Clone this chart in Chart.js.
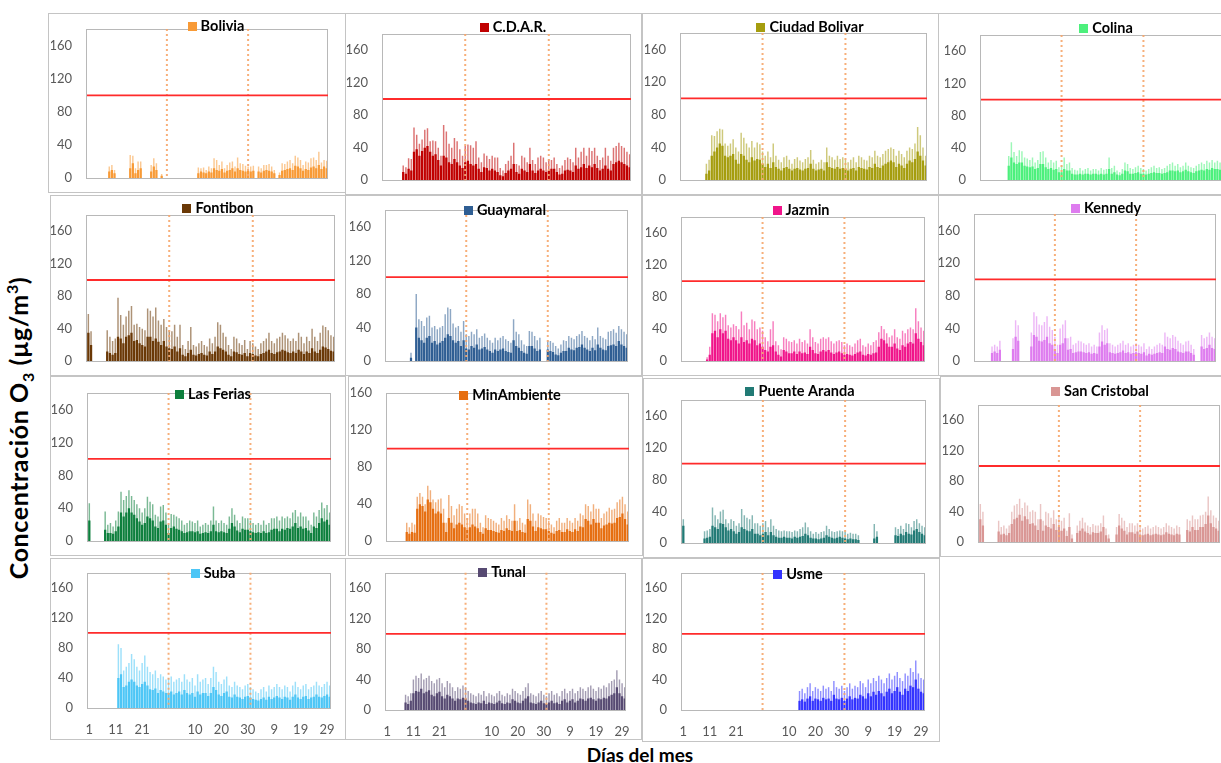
<!DOCTYPE html>
<html>
<head>
<meta charset="utf-8">
<script src="https://cdn.jsdelivr.net/npm/chart.js@4.4.1/dist/chart.umd.min.js"></script>
<style>
html,body{margin:0;padding:0;background:#fff;width:1221px;height:763px;overflow:hidden;position:relative;font-family:Lato,"Open Sans",sans-serif}
canvas{position:absolute}
#ytitle{position:absolute;left:20px;top:428px;transform:translate(-50%,-50%) rotate(-90deg);white-space:nowrap;font-weight:bold;font-size:25px;letter-spacing:0.6px;color:#000;line-height:1}
#ytitle sub,#ytitle sup{font-size:16px}
#xtitle{position:absolute;left:640px;top:754px;transform:translate(-50%,-50%);white-space:nowrap;font-weight:bold;font-size:19px;color:#000}
</style>
</head>
<body>
<div id="ytitle">Concentración O<sub>3</sub> (µg/m<sup>3</sup>)</div>
<div id="xtitle">Días del mes</div>
<script>
(function(){
'use strict';
const _ = null;

// dias (tres meses: 31, 31, 30)
const days = [1,2,3,4,5,6,7,8,9,10,11,12,13,14,15,16,17,18,19,20,21,22,23,24,25,26,27,28,29,30,31,
  1,2,3,4,5,6,7,8,9,10,11,12,13,14,15,16,17,18,19,20,21,22,23,24,25,26,27,28,29,30,31,
  1,2,3,4,5,6,7,8,9,10,11,12,13,14,15,16,17,18,19,20,21,22,23,24,25,26,27,28,29,30];
const tickIdx = [0,10,20,40,50,60,70,80,90];
const yTicks = [0,40,80,120,160];
const monthEnds = [30,61];
const limit = 100;

// maximos diarios (pico) y nivel base por estacion
const boliviaPeak = [_,_,_,_,_,_,_,_,14,16,
 10,_,_,_,_,_,28,27,12,20,
 20,_,_,_,16,24,18,_,5,_,
 _,_,_,_,_,_,_,_,_,_,
 _,_,13,12,13,10,14,12,24,22,
 16,20,12,16,19,20,14,25,18,17,
 15,14,14,15,_,14,12,16,16,17,
 14,10,_,7,18,17,20,22,18,27,
 25,22,16,20,19,24,25,22,32,19,
 22,21];
const boliviaBase = [_,_,_,_,_,_,_,_,8,10,
 6,_,_,_,_,_,12,18,6,10,
 12,_,_,_,8,14,10,_,3,_,
 _,_,_,_,_,_,_,_,_,_,
 _,_,6,8,7,6,8,7,12,10,
 9,11,7,9,10,12,8,12,10,9,
 8,9,8,9,_,8,7,9,10,9,
 8,6,_,4,9,10,11,12,10,15,
 14,12,9,11,10,13,14,12,16,11,
 14,12];

const cdarPeak = [_,_,_,_,_,_,_,18,16,27,
 26,65,56,45,50,62,64,48,49,48,
 40,30,68,60,45,40,52,48,38,30,
 42,44,43,40,48,28,22,33,30,26,
 30,28,28,15,12,20,24,30,46,20,
 18,30,28,22,40,25,20,28,30,28,
 22,26,25,28,20,15,18,25,28,26,
 22,40,28,35,40,30,40,36,40,30,
 25,28,40,30,24,40,42,46,42,40,
 35,32];
const cdarBase = [_,_,_,_,_,_,_,10,8,14,
 12,35,38,30,36,40,42,35,30,32,
 25,18,30,28,22,20,26,22,18,15,
 22,24,20,18,20,14,10,16,15,12,
 14,12,10,6,5,9,12,14,20,10,
 8,14,12,10,20,12,9,12,14,12,
 10,12,14,14,10,7,8,12,13,12,
 10,18,14,16,20,15,18,16,20,15,
 12,14,18,14,12,20,22,24,22,20,
 18,16];

const ciudadPeak = [_,_,_,_,_,_,_,_,_,20,
 25,55,54,60,63,62,45,42,45,50,
 40,35,58,52,45,40,48,40,46,44,
 35,30,35,28,45,30,25,22,28,30,
 25,20,26,28,24,22,26,28,37,25,
 20,22,25,22,40,30,28,25,30,26,
 28,25,22,25,28,22,30,28,25,24,
 30,28,36,30,28,32,36,38,40,38,
 30,36,32,28,36,40,38,45,65,55,
 40,30];
const ciudadBase = [_,_,_,_,_,_,_,_,_,8,
 12,30,35,40,45,42,30,28,30,32,
 25,20,32,30,25,22,28,24,26,25,
 20,16,20,15,22,16,14,12,15,16,
 14,12,14,15,13,12,14,15,20,14,
 12,13,14,12,22,16,15,14,16,14,
 15,14,12,14,15,12,16,15,14,13,
 16,15,20,16,15,18,20,22,24,22,
 16,20,18,15,20,24,22,26,35,30,
 24,18];

const colinaPeak = [_,_,_,_,_,_,_,_,_,_,
 30,47,35,30,37,36,28,27,25,28,
 22,25,35,36,28,22,25,22,24,16,
 18,28,20,22,15,13,12,15,12,14,
 15,12,14,14,12,15,13,14,28,15,
 18,12,10,14,22,20,15,14,16,18,
 15,14,12,14,16,18,15,16,14,15,
 18,20,22,18,20,16,18,22,18,16,
 15,18,20,22,20,24,22,25,22,24,
 22,25];
const colinaBase = [_,_,_,_,_,_,_,_,_,_,
 18,28,22,20,22,22,18,17,16,17,
 14,15,20,20,16,14,15,13,14,10,
 10,14,12,12,8,7,7,8,7,8,
 8,7,8,8,7,8,7,8,14,8,
 10,7,6,8,12,11,8,8,9,10,
 8,8,7,8,9,10,9,9,8,9,
 10,12,12,11,12,10,11,13,11,10,
 9,11,12,13,12,14,13,15,14,14,
 13,15];

const fontibonPeak = [58,37,_,_,_,_,_,38,30,25,
 28,78,57,45,55,62,68,45,46,42,
 40,38,65,62,55,66,50,45,52,42,
 38,37,45,30,45,20,15,25,42,20,
 18,22,25,20,18,28,22,30,48,45,
 35,30,20,15,30,28,22,20,26,15,
 25,22,18,15,22,25,28,35,25,22,
 28,30,35,32,28,25,28,25,35,30,
 22,30,25,40,30,25,35,44,42,38,
 32,30];
const fontibonBase = [35,20,_,_,_,_,_,12,10,8,
 10,30,28,22,30,32,35,25,26,22,
 20,18,30,30,25,28,24,20,25,18,
 16,15,18,12,16,8,6,10,14,8,
 7,9,10,8,7,12,9,12,18,16,
 14,12,8,6,12,11,9,8,10,6,
 10,9,7,6,9,10,12,14,10,9,
 11,12,14,13,11,10,12,10,14,12,
 9,12,10,16,12,10,14,18,17,15,
 13,12];

const guaymaralPeak = [_,_,_,_,_,_,_,_,_,10,
 _,80,50,48,42,52,54,40,42,38,
 40,42,56,64,62,45,40,42,35,48,
 32,30,35,32,38,28,30,33,28,25,
 22,28,25,28,30,26,24,22,50,35,
 32,25,20,18,36,35,30,25,28,_,
 _,25,24,22,18,15,20,25,24,30,
 28,26,30,32,36,30,28,25,30,26,
 40,30,28,26,35,36,38,34,42,38,
 35,32];
const guaymaralBase = [_,_,_,_,_,_,_,_,_,4,
 _,40,28,25,22,28,30,22,24,20,
 22,24,28,32,30,25,22,24,18,25,
 15,14,18,16,20,14,15,17,14,12,
 10,14,12,14,15,12,11,10,25,18,
 16,12,10,9,18,18,15,12,14,_,
 _,14,12,11,8,7,10,12,12,16,
 14,13,16,17,20,16,14,12,16,13,
 20,16,14,13,18,19,20,18,24,20,
 18,16];

const jazminPeak = [_,_,_,_,_,_,_,_,_,5,
 18,60,58,50,60,55,58,45,42,46,
 44,40,62,45,48,40,52,50,40,42,
 38,30,25,40,50,25,20,15,30,28,
 25,24,26,22,28,24,26,22,40,30,
 24,22,28,30,28,30,25,22,25,26,
 24,20,22,20,18,22,26,28,20,18,
 22,20,24,26,36,44,40,35,30,32,
 40,30,28,38,35,40,42,40,66,50,
 42,38];
const jazminBase = [_,_,_,_,_,_,_,_,_,2,
 8,35,38,30,40,35,38,28,26,30,
 26,22,30,24,26,22,28,26,20,22,
 18,14,12,18,20,12,8,6,14,12,
 10,10,12,9,12,10,11,9,18,14,
 10,9,12,14,12,14,11,9,11,12,
 10,8,9,8,7,9,11,12,8,7,
 9,8,10,11,18,28,26,22,18,18,
 22,16,14,20,18,22,24,22,35,28,
 24,20];

const kennedyPeak = [_,_,_,_,_,_,18,20,18,25,
 _,_,_,_,28,50,44,_,_,_,
 _,35,60,55,45,44,48,55,42,38,
 30,20,40,45,50,28,30,20,22,25,
 24,22,20,22,18,20,18,35,44,38,
 40,22,20,18,20,22,25,20,22,18,
 20,22,20,18,22,15,18,15,18,20,
 22,20,35,30,28,32,30,25,22,20,
 24,25,20,15,_,_,32,28,30,35,
 30,28];
const kennedyBase = [_,_,_,_,_,_,10,12,10,14,
 _,_,_,_,15,30,25,_,_,_,
 _,18,32,30,25,24,26,30,22,20,
 15,10,20,22,28,14,15,10,11,12,
 12,11,10,11,9,10,9,18,24,20,
 22,11,10,9,10,11,13,10,11,9,
 10,11,10,9,11,7,9,8,9,10,
 11,10,18,15,14,16,15,12,11,10,
 12,12,10,8,_,_,18,15,16,20,
 16,15];

const feriasPeak = [46,_,_,_,_,_,36,20,22,18,
 25,36,60,50,55,62,55,50,45,40,
 35,40,54,48,45,32,30,42,44,35,
 20,33,32,30,28,25,20,22,25,24,
 22,25,18,20,22,20,25,42,25,22,
 25,22,20,30,40,32,25,22,30,28,
 28,25,22,20,22,20,25,20,22,28,
 28,30,25,30,28,30,28,35,38,30,
 35,30,30,25,20,35,30,38,47,40,
 44,35];
const feriasBase = [25,_,_,_,_,_,14,10,10,9,
 12,18,35,30,35,40,35,32,28,24,
 20,22,30,28,25,18,16,24,25,20,
 10,16,18,15,14,12,10,11,12,12,
 11,12,9,10,11,10,12,20,12,11,
 12,11,10,15,22,18,13,11,15,14,
 14,12,11,10,11,10,12,10,11,14,
 15,15,12,15,14,16,15,18,22,16,
 18,15,16,13,10,18,16,22,28,24,
 26,20];

const minambPeak = [_,_,_,_,_,_,_,20,15,20,
 18,48,52,48,40,60,55,45,42,45,
 46,35,20,50,38,28,35,40,38,30,
 25,30,35,35,30,20,15,28,25,24,
 22,20,18,25,22,28,24,22,40,22,
 25,20,18,45,40,30,22,30,28,26,
 25,22,18,15,22,25,20,20,25,22,
 20,25,22,30,28,40,38,32,40,35,
 35,25,30,32,36,34,35,42,45,48,
 40,32];
const minambBase = [_,_,_,_,_,_,_,10,8,10,
 9,35,40,38,32,45,42,35,30,32,
 30,20,10,25,20,14,18,20,18,15,
 12,15,18,16,14,10,8,14,12,12,
 11,10,9,12,11,14,12,11,22,11,
 12,10,9,24,22,16,11,15,14,13,
 13,11,9,8,11,12,10,10,13,11,
 10,13,11,16,15,24,22,18,24,20,
 20,14,17,18,20,19,20,25,26,30,
 24,18];

const arandaPeak = [30,_,_,_,_,_,_,_,15,16,
 18,45,35,30,40,42,30,25,30,28,
 22,25,43,35,32,30,35,25,25,22,
 25,28,20,30,22,18,16,15,16,15,
 15,14,16,15,18,20,26,20,15,12,
 14,12,14,15,22,18,15,14,15,16,
 15,14,12,13,12,12,10,_,_,_,
 _,_,24,15,_,_,_,_,_,_,
 20,18,22,18,25,24,20,28,30,25,
 22,20];
const arandaBase = [22,_,_,_,_,_,_,_,6,7,
 8,22,20,18,25,24,20,16,18,15,
 12,14,20,18,16,15,18,12,12,10,
 12,14,10,14,10,8,7,7,8,7,
 7,6,8,7,8,9,12,10,7,6,
 6,5,6,7,10,8,7,6,7,8,
 7,6,5,6,5,5,4,_,_,_,
 _,_,6,8,_,_,_,_,_,_,
 10,9,12,10,14,12,11,16,18,14,
 12,10];

const cristobalPeak = [50,40,_,_,_,_,_,28,20,22,
 18,22,40,48,50,57,45,52,48,40,
 42,40,30,50,28,40,38,32,42,30,
 35,28,32,15,38,10,_,22,28,32,
 26,22,20,24,22,22,25,35,18,10,
 _,_,20,37,32,28,20,25,25,22,
 25,20,18,20,22,18,20,22,20,18,
 20,25,22,20,18,22,20,_,_,30,
 28,35,30,30,35,36,40,60,42,35,
 32,28];
const cristobalBase = [30,22,_,_,_,_,_,14,10,11,
 9,12,24,30,32,36,28,34,30,24,
 25,22,16,30,15,22,20,18,24,16,
 20,15,18,8,20,5,_,12,15,18,
 14,12,10,13,12,12,14,20,9,5,
 _,_,10,22,18,15,10,13,13,11,
 14,10,9,10,11,9,10,11,10,9,
 10,13,11,10,9,11,10,_,_,16,
 14,20,16,16,20,20,24,35,25,20,
 18,15];

const subaPeak = [_,_,_,_,_,_,_,_,_,_,
 _,85,80,50,55,60,72,65,55,50,
 60,70,55,48,45,50,40,45,42,38,
 40,42,35,38,40,35,45,38,35,40,
 30,45,35,38,40,32,40,55,48,35,
 32,38,42,30,28,35,30,28,25,30,
 32,28,25,22,20,25,28,22,30,25,
 28,32,28,25,30,28,22,30,35,28,
 25,30,32,25,28,30,35,30,28,32,
 35,30];
const subaBase = [_,_,_,_,_,_,_,_,_,_,
 _,40,45,28,30,35,38,35,30,28,
 32,35,30,25,24,26,20,24,22,20,
 20,22,18,20,22,18,24,20,18,20,
 15,22,18,20,20,16,20,28,24,18,
 16,20,22,15,14,18,15,14,12,15,
 16,14,12,11,10,12,14,11,15,12,
 14,16,14,12,15,14,11,15,18,14,
 12,15,16,12,14,15,18,15,14,16,
 18,15];

const tunalPeak = [_,_,_,_,_,_,_,20,18,22,
 40,45,42,48,40,42,45,38,35,40,
 42,35,30,38,35,30,25,30,28,32,
 30,25,22,20,18,22,20,25,18,22,
 20,18,22,25,20,18,22,20,28,25,
 22,20,25,30,35,22,20,18,22,25,
 20,18,22,25,20,22,18,25,28,22,
 25,28,22,25,30,28,25,30,32,28,
 25,30,28,32,30,35,38,40,52,40,
 35,30];
const tunalBase = [_,_,_,_,_,_,_,10,8,12,
 22,25,24,28,22,24,26,20,18,22,
 24,18,15,20,18,15,12,15,14,16,
 15,12,10,9,8,10,9,12,8,10,
 9,8,10,12,9,8,10,9,14,12,
 10,9,12,15,18,10,9,8,10,12,
 9,8,10,12,9,10,8,12,14,10,
 12,14,10,12,15,14,12,15,16,14,
 12,15,14,16,15,18,20,22,30,22,
 18,15];

const usmePeak = [_,_,_,_,_,_,_,_,_,_,
 _,_,_,_,_,_,_,_,_,_,
 _,_,_,_,_,_,_,_,_,_,
 _,_,_,_,_,_,_,_,_,_,
 _,_,_,_,25,28,22,30,35,25,
 30,28,25,32,28,30,25,38,30,28,
 32,25,30,35,28,32,30,38,35,30,
 40,35,42,38,45,40,35,42,48,40,
 45,50,42,38,48,45,55,50,65,48,
 42,40];
const usmeBase = [_,_,_,_,_,_,_,_,_,_,
 _,_,_,_,_,_,_,_,_,_,
 _,_,_,_,_,_,_,_,_,_,
 _,_,_,_,_,_,_,_,_,_,
 _,_,_,_,12,14,11,15,18,12,
 15,14,12,16,14,15,12,20,15,14,
 16,12,15,18,14,16,15,20,18,15,
 22,18,24,20,25,22,18,24,28,22,
 25,30,24,20,28,25,32,30,40,28,
 24,22];

const stations = [
  { name:'Bolivia',        color:'#F89A36', peak:boliviaPeak,   base:boliviaBase },
  { name:'C.D.A.R.',       color:'#C00000', peak:cdarPeak,      base:cdarBase },
  { name:'Ciudad Bolivar', color:'#A59D0E', peak:ciudadPeak,    base:ciudadBase },
  { name:'Colina',         color:'#4CF07C', peak:colinaPeak,    base:colinaBase },
  { name:'Fontibon',       color:'#6A3806', peak:fontibonPeak,  base:fontibonBase },
  { name:'Guaymaral',      color:'#2F5E93', peak:guaymaralPeak, base:guaymaralBase },
  { name:'Jazmin',         color:'#F0148A', peak:jazminPeak,    base:jazminBase },
  { name:'Kennedy',        color:'#DE7CEF', peak:kennedyPeak,   base:kennedyBase },
  { name:'Las Ferias',     color:'#0D7F3D', peak:feriasPeak,    base:feriasBase },
  { name:'MinAmbiente',    color:'#E66E10', peak:minambPeak,    base:minambBase },
  { name:'Puente Aranda',  color:'#217A75', peak:arandaPeak,    base:arandaBase },
  { name:'San Cristobal',  color:'#D99694', peak:cristobalPeak, base:cristobalBase },
  { name:'Suba',           color:'#4DC6F6', peak:subaPeak,      base:subaBase },
  { name:'Tunal',          color:'#574A72', peak:tunalPeak,     base:tunalBase },
  { name:'Usme',           color:'#3333FF', peak:usmePeak,      base:usmeBase }
];

// cajas de cada grafico: box [x,y,w,h], plot [izq,arriba,der,cero], leyenda [cx,cy]
const panels = [
  { box:[48,13,298,180],  plot:[87,29,328,181],    leg:[216,26],  ymax:180 },
  { box:[345,13,297,182], plot:[383,34,631,184],   leg:[513,27],  ymax:180 },
  { box:[642,13,297,182], plot:[681,33,927,185],   leg:[810,27],  ymax:180 },
  { box:[938,13,300,182], plot:[981,35,1224,185],  leg:[1106,28], ymax:180 },
  { box:[50,195,296,181], plot:[87,215,335,365],   leg:[218,208], ymax:180 },
  { box:[345,195,297,181],plot:[386,210,628,365],  leg:[505,210], ymax:180 },
  { box:[642,195,297,181],plot:[682,217,925,365],  leg:[801,210], ymax:180 },
  { box:[938,195,290,181],plot:[975,214,1216,365], leg:[1106,208],ymax:180 },
  { box:[50,376,296,180], plot:[88,393,331,546],   leg:[213,394], ymax:180 },
  { box:[348,376,295,180],plot:[387,393,629,545],  leg:[510,395], ymax:160 },
  { box:[643,378,297,180],plot:[682,400,926,548],  leg:[800,391], ymax:180 },
  { box:[940,376,290,181],plot:[979,405,1220,548], leg:[1100,391],ymax:180 },
  { box:[50,558,296,182], plot:[88,571,331,708],   leg:[213,573], ymax:180, xlab:true },
  { box:[345,558,297,182],plot:[386,572,626,710],  leg:[502,572], ymax:180, xlab:true },
  { box:[642,558,298,184],plot:[682,573,925,710],  leg:[798,574], ymax:180, xlab:true }
];

const FONT = 'Lato, "Open Sans", sans-serif';
const Y_W = 36, X_H = 26;

function fade(hex, a){
  const n = parseInt(hex.slice(1), 16);
  return `rgba(${(n>>16)&255},${(n>>8)&255},${n&255},${a})`;
}

const deco = {
  id:'deco',
  beforeDraw(chart){
    const c = chart.ctx;
    c.save();
    c.strokeStyle = '#c4c4c4'; c.lineWidth = 1;
    c.strokeRect(0.5, 0.5, chart.width-1, chart.height-1);
    c.restore();
  },
  afterDatasetsDraw(chart){
    const c = chart.ctx, a = chart.chartArea, x = chart.scales.x, y = chart.scales.y;
    c.save();
    c.strokeStyle = '#b8b8b8'; c.lineWidth = 1;
    c.strokeRect(Math.round(a.left)-0.5, Math.round(a.top)+0.5, Math.round(a.right-a.left), Math.round(a.bottom-a.top));
    c.strokeStyle = 'rgba(246,166,108,0.9)'; c.lineWidth = 2; c.setLineDash([2,3]);
    monthEnds.forEach(i => {
      const px = x.getPixelForValue(i);
      c.beginPath(); c.moveTo(px, a.top); c.lineTo(px, a.bottom); c.stroke();
    });
    c.setLineDash([]);
    const py = y.getPixelForValue(limit);
    c.strokeStyle = '#ff2b2b'; c.lineWidth = 1.8;
    c.beginPath(); c.moveTo(a.left, py); c.lineTo(a.right, py); c.stroke();
    c.restore();
  },
  afterDraw(chart, args, o){
    const c = chart.ctx;
    c.save();
    c.font = 'bold 14.5px ' + FONT;
    const tw = c.measureText(o.name).width;
    const total = 9 + 4 + tw;
    const x0 = o.cx - total/2;
    c.fillStyle = o.color;
    c.fillRect(Math.round(x0), Math.round(o.cy-4.5), 9, 9);
    c.fillStyle = '#000'; c.textBaseline = 'middle'; c.textAlign = 'left';
    c.fillText(o.name, x0 + 13, o.cy + 0.5);
    c.restore();
  }
};

stations.forEach((st, k) => {
  const p = panels[k];
  const [bx, by, bw, bh] = p.box;
  const [pl, pt, pr, pb] = p.plot;
  const xh = p.xlab ? X_H : 0;
  const cv = document.createElement('canvas');
  cv.width = bw; cv.height = bh;
  cv.style.left = bx + 'px'; cv.style.top = by + 'px';
  cv.style.width = bw + 'px'; cv.style.height = bh + 'px';
  document.body.appendChild(cv);

  new Chart(cv, {
    type:'bar',
    data:{
      labels: days,
      datasets:[
        { data: st.base, backgroundColor: st.color, barPercentage: 0.85, categoryPercentage: 1, grouped: false },
        { data: st.peak, backgroundColor: fade(st.color, 0.55), barPercentage: 0.55, categoryPercentage: 1, grouped: false }
      ]
    },
    options:{
      responsive:false, animation:false, events:[],
      layout:{ padding:{ left: pl-bx-Y_W, top: pt-by, right: bx+bw-pr, bottom: by+bh-pb-xh } },
      plugins:{
        legend:{display:false}, tooltip:{enabled:false},
        deco:{ name: st.name, color: st.color, cx: p.leg[0]-bx, cy: p.leg[1]-by }
      },
      scales:{
        x:{
          grid:{display:false}, border:{display:false},
          ticks:{ display: !!p.xlab, autoSkip:false, maxRotation:0, minRotation:0, padding:6,
                  color:'#595959', font:{family:FONT, size:13},
                  callback:(v, i) => tickIdx.includes(i) ? String(days[i]) : '' },
          afterFit: s => { s.height = xh; }
        },
        y:{
          min:0, max:p.ymax,
          grid:{display:false}, border:{display:false},
          ticks:{ stepSize:40, padding:7, color:'#595959', font:{family:FONT, size:13} },
          afterBuildTicks: s => { s.ticks = yTicks.filter(v => v <= p.ymax).map(v => ({value:v})); },
          afterFit: s => { s.width = Y_W; }
        }
      }
    },
    plugins:[deco]
  });
});

})();
</script>
</body>
</html>
